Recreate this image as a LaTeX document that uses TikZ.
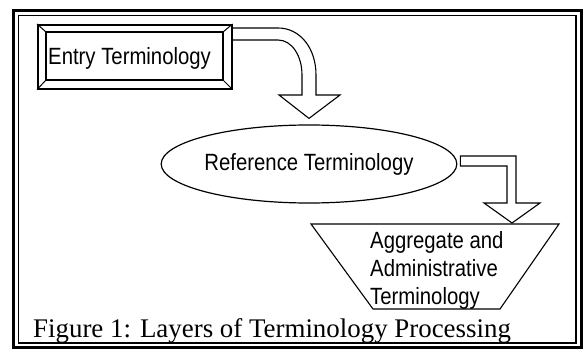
\documentclass[tikz,border=0pt]{standalone}
\usepackage{fontspec}
\setmainfont{Liberation Serif}
\setsansfont{Liberation Sans}
\newfontfamily\narrowsans[FakeStretch=0.865]{Liberation Sans}
\usetikzlibrary{shapes.geometric,calc}
\begin{document}
\begin{tikzpicture}[x=1pt,y=-1pt,
  lbl/.style={font=\narrowsans\fontsize{23.5}{28}\selectfont, inner sep=0pt},
  outl/.style={draw=black, line width=1.1pt, line join=miter},
  capt/.style={font=\fontsize{26.9}{30}\selectfont, inner sep=0pt}]
\fill[white] (0,0) rectangle (584,350);
\useasboundingbox (0,0) rectangle (584,350);
% frame
\draw[line width=3pt] (13.5,10.5) rectangle (581,347);
\draw[line width=1.2pt] (18.5,15.5) rectangle (576,343);
% entry box
\node[draw, line width=1.6pt, minimum width=194pt, minimum height=64pt, inner sep=0pt, anchor=north west] (entry) at (37,24) {};
\coordinate (inw) at (46,32);
\coordinate (ine) at (223,32);
\coordinate (isw) at (46,80);
\coordinate (ise) at (223,80);
\draw[line width=1.2pt] (inw) rectangle (ise);
\draw[line width=1pt] (entry.north west) -- (inw) (entry.north east) -- (ine)
  (entry.south west) -- (isw) (entry.south east) -- (ise);
\node[lbl, anchor=base west] (entrytext) at (48,65) {Entry Terminology};
% reference ellipse
\node[ellipse, draw, line width=1.2pt, minimum width=256pt, minimum height=78pt, lbl] (ref) at (309,164) {Reference Terminology};
% aggregate trapezoid
\coordinate (tnw) at (311,224);
\coordinate (tne) at (559,224);
\coordinate (tse) at (500,309);
\coordinate (tsw) at (373,309);
\draw[outl] (tnw) -- (tne) -- (tse) -- (tsw) -- cycle;
\node[lbl, anchor=base west] (agg1) at (370,248) {Aggregate and};
\node[lbl, anchor=base west] (agg2) at (370,276) {Administrative};
\node[lbl, anchor=base west] (agg3) at (370,304) {Terminology};
% arrow 1
\coordinate (t1) at ($(ref.north)+(0,-6)$);
\draw[outl] ($(entry.north east)+(0,4)$) -- (278,28) .. controls (300,28) and (316,48) .. (316,75)
  -- (316,95) -- (340,95) -- (t1) -- (279,95) -- (302,95) -- (302,75)
  .. controls (302,56) and (292,40) .. (278,40) -- ($(entry.north east)+(0,16)$);
% arrow 2
\coordinate (t2) at (512,223);
\draw[outl] ($(ref.east)+(3,-8)$) -- (516,156) -- (516,203) -- (540,203) -- (t2)
  -- (484,203) -- (507,203) -- (507,166) -- ($(ref.east)+(3,2)$) -- cycle;
% caption
\node[capt, anchor=base west] (cap) at (33,337) {Figure 1: Layers of Terminology Processing};
\end{tikzpicture}
\end{document}
